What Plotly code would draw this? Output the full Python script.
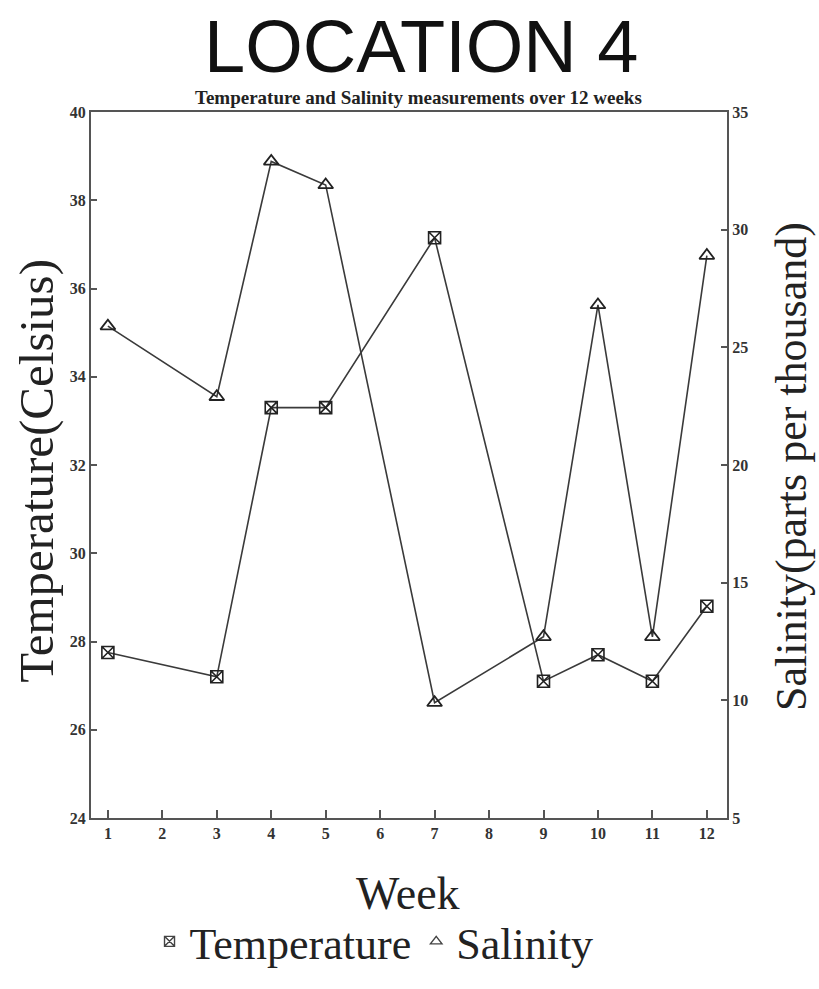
import plotly.graph_objects as go

weeks_temp = [1, 3, 4, 5, 7, 9, 10, 11, 12]
temperature = [27.75, 27.2, 33.3, 33.3, 37.15, 27.1, 27.7, 27.1, 28.8]
weeks_sal = [1, 3, 4, 5, 7, 9, 10, 11, 12]
salinity = [25.9, 22.9, 32.9, 31.9, 9.9, 12.7, 26.8, 12.7, 28.9]
week_ticks = list(range(1, 13))

W, H = 819, 989
L, R, T, B = 91, 92, 112, 149

line_col = "#3a3a3a"
axis_col = "#555555"
serif = "Liberation Serif, Times New Roman, serif"

fig = go.Figure()
fig.add_trace(go.Scatter(
    x=weeks_temp, y=temperature, name="Temperature", mode="lines+markers",
    line=dict(color=line_col, width=1.6), legendgroup="t", showlegend=False,
    marker=dict(symbol="square-x-open", size=12, color="#222222", line=dict(width=1.6)),
    yaxis="y"))
fig.add_trace(go.Scatter(
    x=weeks_sal, y=salinity, name="Salinity", mode="lines+markers",
    line=dict(color=line_col, width=1.6), legendgroup="s", showlegend=False,
    marker=dict(symbol="triangle-up-open", size=13, color="#222222", line=dict(width=1.8)),
    yaxis="y2"))
# legend entries (markers only, as in the original legend)
fig.add_trace(go.Scatter(
    x=[None], y=[None], name="Temperature", mode="markers", legendgroup="t",
    marker=dict(symbol="square-x-open", size=10, color="#444444", line=dict(width=1.4)),
    yaxis="y"))
fig.add_trace(go.Scatter(
    x=[None], y=[None], name="Salinity", mode="markers", legendgroup="s",
    marker=dict(symbol="triangle-up-open", size=10, color="#444444", line=dict(width=1.4)),
    yaxis="y2"))

fig.update_layout(
    width=W, height=H,
    margin=dict(l=L, r=R, t=T, b=B),
    paper_bgcolor="white", plot_bgcolor="white",
    font=dict(family=serif, color="#222222"),
    showlegend=True,
    legend=dict(orientation="h", x=0.445, xanchor="center", y=-0.125, yanchor="top",
                font=dict(family=serif, size=44, color="#222222"),
                itemwidth=30, tracegroupgap=0, bgcolor="rgba(0,0,0,0)"),
    xaxis=dict(range=[0.69, 12.37], tickmode="array", tickvals=week_ticks,
               ticktext=[str(w) for w in week_ticks],
               showgrid=False, zeroline=False, showline=True, linecolor=axis_col,
               linewidth=2, mirror=True, ticks="inside", ticklen=8, tickwidth=1.5,
               tickcolor=axis_col,
               tickfont=dict(family=serif, size=16, color="#333333", weight="bold")),
    yaxis=dict(range=[24, 40], dtick=2, showgrid=False, zeroline=False,
               showline=True, linecolor=axis_col, linewidth=2,
               ticks="inside", ticklen=6, tickwidth=1.5, tickcolor=axis_col,
               tickfont=dict(family=serif, size=16, color="#333333", weight="bold")),
    yaxis2=dict(range=[5, 35], dtick=5, overlaying="y", side="right",
                showgrid=False, zeroline=False, showline=True, linecolor=axis_col,
                linewidth=2, ticks="inside", ticklen=6, tickwidth=1.5, tickcolor=axis_col,
                tickfont=dict(family=serif, size=16, color="#333333", weight="bold")),
)

plot_h = H - T - B
plot_w = W - L - R

def py(y):
    return (H - B - y) / plot_h

def px(x):
    return (x - L) / plot_w

fig.add_annotation(text="LOCATION 4", x=px(421), y=py(44), xref="paper", yref="paper",
                   showarrow=False, xanchor="center", yanchor="middle",
                   font=dict(family="Liberation Sans, Arial, sans-serif", size=74, color="#111111"))
fig.add_annotation(text="<b>Temperature and Salinity measurements over 12 weeks</b>",
                   x=px(418), y=py(97), xref="paper", yref="paper", showarrow=False,
                   xanchor="center", yanchor="middle",
                   font=dict(family=serif, size=19, color="#222222"))
fig.add_annotation(text="Week", x=px(408), y=py(918), xref="paper", yref="paper",
                   showarrow=False, xanchor="center", yanchor="middle",
                   font=dict(family=serif, size=46, color="#222222"))
fig.add_annotation(text="Temperature(Celsius)", x=px(37), y=py(482), xref="paper", yref="paper",
                   showarrow=False, xanchor="center", yanchor="middle", textangle=-90,
                   font=dict(family=serif, size=49, color="#222222"))
fig.add_annotation(text="Salinity(parts per thousand)", x=px(792), y=py(478), xref="paper", yref="paper",
                   showarrow=False, xanchor="center", yanchor="middle", textangle=-90,
                   font=dict(family=serif, size=44, color="#222222"))

fig.write_html("out.html")
